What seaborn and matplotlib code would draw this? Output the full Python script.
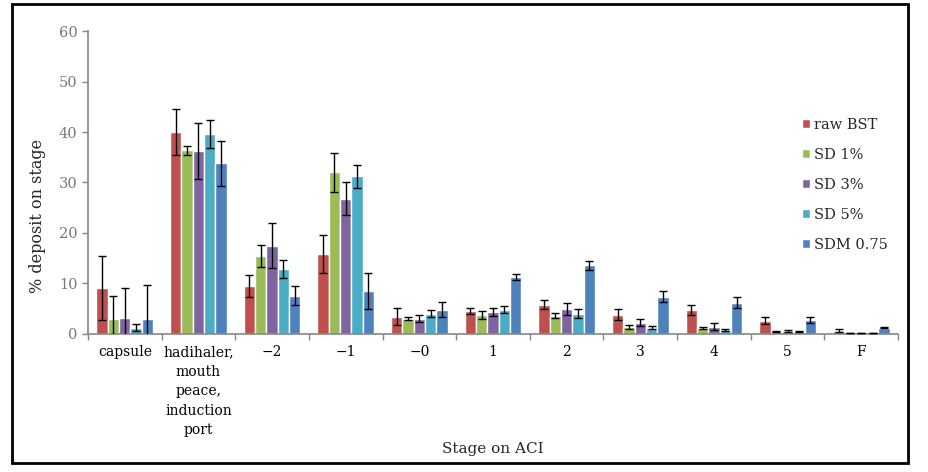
import numpy as np
import pandas as pd
import matplotlib
matplotlib.use("Agg")
import matplotlib.pyplot as plt
from matplotlib.patches import Rectangle
import seaborn as sns

# data
stages = ["capsule", "hadihaler,\nmouth\npeace,\ninduction\nport",
          "\u22122", "\u22121", "\u22120", "1", "2", "3", "4", "5", "F"]
formulations = ["raw BST", "SD 1%", "SD 3%", "SD 5%", "SDM 0.75"]

raw_bst = [9.1, 40.0, 9.5, 15.9, 3.4, 4.6, 5.8, 3.8, 4.8, 2.6, 0.6]
sd_1 = [3.0, 36.4, 15.5, 32.0, 3.0, 3.8, 3.6, 1.3, 1.1, 0.4, 0.2]
sd_3 = [3.2, 36.2, 17.5, 26.8, 3.0, 4.4, 5.0, 2.2, 1.4, 0.5, 0.2]
sd_5 = [1.2, 39.6, 12.9, 31.2, 4.0, 4.8, 4.0, 1.2, 0.8, 0.4, 0.2]
sdm_075 = [3.0, 33.8, 7.6, 8.5, 4.8, 11.3, 13.6, 7.4, 6.2, 2.8, 1.2]

raw_bst_err = [6.4, 4.5, 2.2, 3.8, 1.7, 0.6, 0.9, 1.1, 1.0, 0.7, 0.3]
sd_1_err = [4.5, 0.9, 2.2, 3.9, 0.3, 0.8, 0.5, 0.4, 0.2, 0.1, 0.05]
sd_3_err = [5.9, 5.5, 4.5, 3.2, 0.7, 0.8, 1.2, 0.7, 0.7, 0.2, 0.05]
sd_5_err = [0.7, 2.7, 1.8, 2.2, 0.7, 0.7, 0.9, 0.3, 0.2, 0.1, 0.05]
sdm_075_err = [6.7, 4.5, 1.9, 3.6, 1.5, 0.6, 0.9, 1.1, 1.1, 0.6, 0.1]

colors = ["#C0504D", "#9BBB59", "#8064A2", "#4BACC6", "#4F81BD"]

values = [raw_bst, sd_1, sd_3, sd_5, sdm_075]
errors = [raw_bst_err, sd_1_err, sd_3_err, sd_5_err, sdm_075_err]

df = pd.DataFrame({
    "stage": stages * len(formulations),
    "formulation": np.repeat(formulations, len(stages)),
    "value": np.concatenate(values),
})

sns.set_style("white")
plt.rcParams["font.family"] = ["DejaVu Serif"]

fig = plt.figure(figsize=(9.29, 4.72), dpi=100)
ax = fig.add_axes([0.0947, 0.2924, 0.8720, 0.6419])

sns.barplot(data=df, x="stage", y="value", hue="formulation",
            order=stages, hue_order=formulations, palette=colors,
            errorbar=None, width=0.77, saturation=1, ax=ax)

# error bars on top of each bar
for container, err in zip(ax.containers, errors):
    xs = [p.get_x() + p.get_width() / 2 for p in container.patches]
    ys = [p.get_height() for p in container.patches]
    ax.errorbar(xs, ys, yerr=err, fmt="none", ecolor="black",
                elinewidth=1.0, capsize=3.2, capthick=1.0, zorder=5)

ax.set_ylim(0, 60)
ax.set_xlim(-0.5, len(stages) - 0.5)
ax.set_yticks(range(0, 61, 10))
ax.tick_params(axis="y", colors="#868686", labelcolor="#777777",
               labelsize=10.5, length=4, width=1, direction="out", left=True)
ax.tick_params(axis="x", which="major", length=0, pad=8, labelsize=10,
               labelcolor="black")
ax.set_xticks(np.arange(-0.5, len(stages)), minor=True)
ax.tick_params(axis="x", which="minor", length=4, color="#868686",
               width=1, bottom=True, direction="out")
for lbl in ax.get_xticklabels():
    lbl.set_linespacing(1.5)

for side in ["top", "right"]:
    ax.spines[side].set_visible(False)
for side in ["left", "bottom"]:
    ax.spines[side].set_color("#868686")
    ax.spines[side].set_linewidth(1.2)

ax.set_ylabel("% deposit on stage", fontsize=11.5)
ax.yaxis.set_label_coords(-0.052, 0.39)
ax.set_xlabel("Stage on ACI", fontsize=11)
ax.xaxis.set_label_coords(0.5, -0.355)

handles, labels = ax.get_legend_handles_labels()
ax.legend(handles, labels, loc="upper left", bbox_to_anchor=(0.851, 0.775),
          bbox_transform=fig.transFigure, frameon=False, fontsize=10.5,
          handlelength=0.55, handleheight=0.55, handletextpad=0.25,
          labelspacing=1.1, borderpad=0.3)

fig.patches.append(Rectangle((12 / 929, 1 - 463 / 472), 896 / 929, 459 / 472,
                             transform=fig.transFigure, fill=False,
                             edgecolor="black", linewidth=2, zorder=10))

fig.savefig("out.png", dpi=100)
